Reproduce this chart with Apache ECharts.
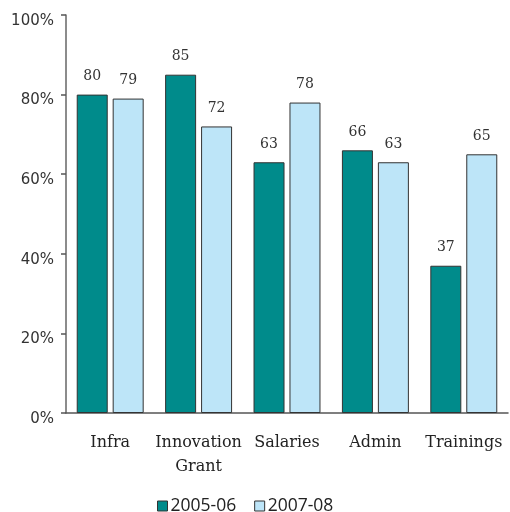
<!DOCTYPE html>
<html><head><meta charset="utf-8">
<script src="https://cdn.jsdelivr.net/npm/echarts@6/dist/echarts.min.js"></script>
<style>html,body{margin:0;padding:0;background:#fff}#c{width:510px;height:512px}</style>
</head><body><div id="c"></div>
<script>
var categories = ['Infra', 'Innovation\nGrant', 'Salaries', 'Admin', 'Trainings'];
var series2005 = [80, 85, 63, 66, 37];
var series2007 = [79, 72, 78, 63, 65];
var yTicks = [0, 20, 40, 60, 80, 100];

var chart = echarts.init(document.getElementById('c'));
var labelStyle = {show: true, position: 'top', distance: 11, fontFamily: 'DejaVu Serif', fontSize: 14, color: '#333'};
chart.setOption({
  animation: false,
  grid: {left: 66, right: 2, top: 15, bottom: 99},
  legend: {
    top: 497, left: 157, padding: 0, itemWidth: 10, itemHeight: 10, itemGap: 18,
    icon: 'rect',
    itemStyle: {borderColor: '#333', borderWidth: 1},
    textStyle: {fontFamily: 'Open Sans', fontSize: 17.5, color: '#222', padding: [0, 0, 0, -2]},
    data: ['2005-06', '2007-08']
  },
  xAxis: {
    type: 'category', data: categories,
    axisLine: {lineStyle: {color: '#555', width: 1.5}},
    axisTick: {show: false},
    axisLabel: {fontFamily: 'DejaVu Serif', fontSize: 16, color: '#222', margin: 18, lineHeight: 24, interval: 0}
  },
  yAxis: {
    type: 'value', min: 0, max: 100, interval: 20,
    axisLine: {show: true, lineStyle: {color: '#666', width: 1.5}},
    axisTick: {show: true, length: 5, lineStyle: {color: '#555', width: 1.5}},
    splitLine: {show: false},
    axisLabel: {formatter: function(v){ return yTicks.indexOf(v) >= 0 ? v + '%' : ''; }, fontFamily: 'DejaVu Sans', fontSize: 15, color: '#333', margin: 12, verticalAlign: 'top', lineHeight: 12}
  },
  series: [
    {name: '2005-06', type: 'bar', data: series2005, barWidth: 31, barGap: '16%',
     itemStyle: {color: '#008B8B', borderColor: '#333', borderWidth: 1}, label: labelStyle},
    {name: '2007-08', type: 'bar', data: series2007, barWidth: 31,
     itemStyle: {color: '#BDE5F8', borderColor: '#333', borderWidth: 1}, label: labelStyle}
  ]
});
</script></body></html>
